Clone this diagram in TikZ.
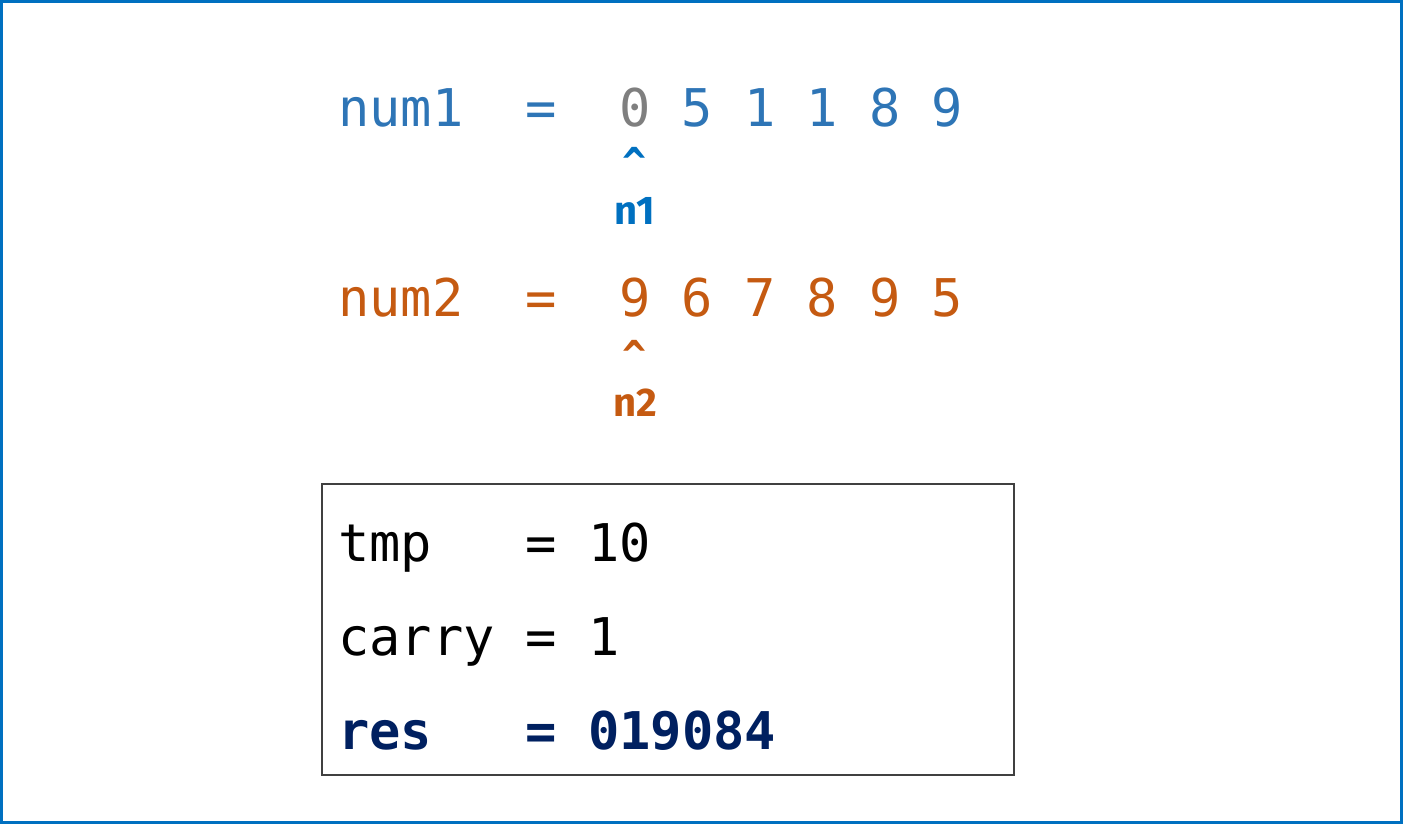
\documentclass[tikz,border=0pt]{standalone}
\usepackage{fontspec}
\setmonofont{DejaVu Sans Mono}
\newfontfamily\ptrfont{Fira Sans}
\definecolor{frameblue}{HTML}{0070C0}
\definecolor{numblue}{HTML}{2E75B6}
\definecolor{zerogray}{HTML}{7F7F7F}
\definecolor{ptrblue}{HTML}{0070C0}
\definecolor{numorange}{HTML}{C55A11}
\definecolor{resnavy}{HTML}{002060}
\definecolor{boxgray}{HTML}{404040}
\begin{document}
\begin{tikzpicture}[x=1pt, y=-1pt,
    code/.style={anchor=base west, inner sep=0pt, font=\ttfamily\fontsize{52}{62}\selectfont},
    caret/.style={anchor=base, inner sep=0pt, font=\ttfamily\bfseries\fontsize{40}{48}\selectfont},
    ptr/.style={anchor=base, inner sep=0pt, font=\ptrfont\bfseries\fontsize{40}{48}\selectfont}]
    \useasboundingbox (0,0) rectangle (1403,824);
    % Outer frame
    \draw[frameblue, line width=3pt] (1.5,1.5) rectangle (1401.5,822.5);

    % First number
    \node[code, text=numblue] (num1) at (338,127) {num1};
    \node[code, text=numblue] (eq1) at (525,127) {=};
    \node[code, text=zerogray] (a0) at (619,127) {0};
    \foreach \d [count=\i] in {5,1,1,8,9}
        \node[code, text=numblue] (a\i) at ({619+62.5*\i},127) {\d};
    \node[caret, text=ptrblue] (c1) at (635,176) {\^{}};
    \node[ptr, text=ptrblue] (n1) at (635,224) {n1};

    % Second number
    \node[code, text=numorange] (num2) at (338,316) {num2};
    \node[code, text=numorange] (eq2) at (525,316) {=};
    \foreach \d [count=\i from 0] in {9,6,7,8,9,5}
        \node[code, text=numorange] (b\i) at ({619+62.5*\i},316) {\d};
    \node[caret, text=numorange] (c2) at (635,369) {\^{}};
    \node[ptr, text=numorange] (n2) at (635,416) {n2};

    % State box
    \draw[boxgray, line width=1.5pt] (322,484) rectangle (1014,775);
    \node[code] (tmp) at (338,561) {tmp};
    \node[code] (eqt) at (525,561) {=};
    \node[code] (tmpv) at (588,561) {10};
    \node[code] (carry) at (338,655) {carry};
    \node[code] (eqc) at (525,655) {=};
    \node[code] (carryv) at (588,655) {1};
    \node[code, text=resnavy, font=\ttfamily\bfseries\fontsize{52}{62}\selectfont] (res) at (338,749) {res};
    \node[code, text=resnavy, font=\ttfamily\bfseries\fontsize{52}{62}\selectfont] (eqr) at (525,749) {=};
    \node[code, text=resnavy, font=\ttfamily\bfseries\fontsize{52}{62}\selectfont] (resv) at (588,749) {019084};
\end{tikzpicture}
\end{document}
